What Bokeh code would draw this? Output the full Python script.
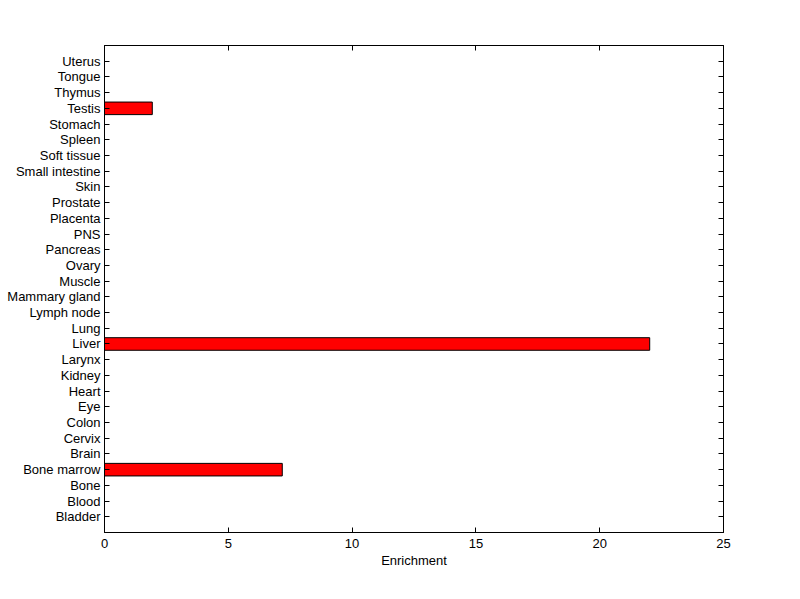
from bokeh.plotting import figure
from bokeh.models import Range1d, FixedTicker, LinearAxis, ColumnDataSource
from bokeh.embed import file_html
from bokeh.resources import INLINE

tissues = ["Bladder", "Blood", "Bone", "Bone marrow", "Brain", "Cervix", "Colon", "Eye",
           "Heart", "Kidney", "Larynx", "Liver", "Lung", "Lymph node", "Mammary gland",
           "Muscle", "Ovary", "Pancreas", "PNS", "Placenta", "Prostate", "Skin",
           "Small intestine", "Soft tissue", "Spleen", "Stomach", "Testis", "Thymus",
           "Tongue", "Uterus"]
enrichment = [0, 0, 0, 7.18, 0, 0, 0, 0, 0, 0, 0, 22.02, 0, 0, 0, 0, 0, 0, 0, 0, 0, 0,
              0, 0, 0, 0, 1.93, 0, 0, 0]
x_ticks = [0, 5, 10, 15, 20, 25]

positions = list(range(1, len(tissues) + 1))
src = ColumnDataSource(dict(y=positions, right=enrichment))

FONT = "Liberation Sans"
FS = "13px"

p = figure(width=792, height=586, output_backend="svg", toolbar_location=None,
           x_range=Range1d(0, 25), y_range=Range1d(0, len(tissues) + 1),
           min_border_left=104, min_border_right=69, min_border_top=45, min_border_bottom=54,
           x_axis_label="Enrichment")
p.frame_width = 619
p.frame_height = 487

p.hbar(y="y", left=0, right="right", height=0.8, source=src,
       fill_color="#ff0000", line_color="black", line_width=1)

p.xgrid.visible = False
p.ygrid.visible = False
p.outline_line_color = "black"
p.outline_line_width = 1
p.background_fill_color = "white"
p.border_fill_color = "white"

label_map = {pos: t for pos, t in zip(positions, tissues)}

def style(ax, labels=True):
    ax.major_tick_in = 5
    ax.major_tick_out = 0
    ax.minor_tick_line_color = None
    ax.axis_line_color = "black"
    ax.major_tick_line_color = "black"
    ax.major_label_text_font = FONT
    ax.major_label_text_font_size = FS
    ax.major_label_text_color = "black" if labels else None
    ax.axis_label_text_font = FONT
    ax.axis_label_text_font_size = FS
    ax.axis_label_text_font_style = "normal"
    ax.axis_label_text_color = "black"

xa = p.xaxis[0]
xa.ticker = FixedTicker(ticks=x_ticks)
style(xa)
xa.major_label_standoff = 6
xa.axis_label_standoff = 2

ya = p.yaxis[0]
ya.ticker = FixedTicker(ticks=positions)
ya.major_label_overrides = label_map
style(ya)
ya.major_label_standoff = 4

top = LinearAxis(ticker=FixedTicker(ticks=x_ticks))
style(top, labels=False)
p.add_layout(top, "above")

right = LinearAxis(ticker=FixedTicker(ticks=positions))
style(right, labels=False)
p.add_layout(right, "right")

open("out.html", "w").write(file_html(p, INLINE))
